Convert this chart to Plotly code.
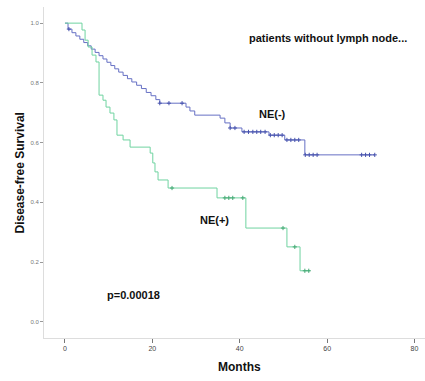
import numpy as np
import plotly.graph_objects as go

# NE(-) group: event times (months) and survival after each step
neg_time = [0, 0.7, 1.6, 2.5, 3.4, 4.3, 5.2, 6.0, 6.9, 7.8, 8.7, 9.6, 10.5, 11.4, 12.3,
            13.3, 14.3, 15.3, 16.4, 17.5, 18.6, 19.7, 20.8, 21.7,
            27.7, 28.6, 29.7, 35.5, 36.6, 37.8, 40.5, 46.7, 50.3, 54.9, 70.9]
neg_surv = [1.0, 0.980, 0.968, 0.957, 0.946, 0.935, 0.924, 0.913, 0.902, 0.891, 0.880,
            0.869, 0.858, 0.847, 0.836, 0.825, 0.814, 0.803, 0.792, 0.781, 0.768, 0.757,
            0.744, 0.732, 0.719, 0.706, 0.692, 0.682, 0.666, 0.649, 0.636, 0.625, 0.609,
            0.559, 0.559]
neg_censor = [0.9, 21.7, 23.8, 26.8, 37.8, 38.9, 41.0, 42.0, 43.0, 43.9, 44.8, 45.8,
              47.0, 47.9, 48.8, 49.7, 50.8, 51.7, 52.6, 53.5, 55.0, 55.9, 56.8, 57.7,
              67.9, 68.8, 69.7, 70.9]

# NE(+) group
pos_time = [0, 3.9, 4.6, 5.3, 6.2, 7.1, 7.8, 8.7, 9.4, 10.3, 11.2, 11.9, 13.3, 14.9,
            19.5, 20.1, 20.6, 21.3, 23.6, 34.8, 41.4, 50.8, 53.8, 56.1]
pos_surv = [1.0, 0.977, 0.943, 0.920, 0.893, 0.870, 0.759, 0.742, 0.719, 0.699, 0.676,
            0.625, 0.609, 0.585, 0.565, 0.532, 0.502, 0.475, 0.448, 0.415, 0.314, 0.251,
            0.171, 0.171]
pos_censor = [24.5, 36.6, 37.5, 38.4, 40.7, 49.9, 52.6, 54.9, 55.8]

x_ticks = [0, 20, 40, 60, 80]
y_ticks = [0.0, 0.2, 0.4, 0.6, 0.8, 1.0]

BLUE = "#6670c4"
BLUE_M = "#4652ad"
GREEN = "#6fd3a0"
GREEN_M = "#45a874"


def step_at(times, survs, t):
    idx = np.searchsorted(np.array(times), np.array(t), side="right") - 1
    return [survs[i] for i in idx]


fig = go.Figure()
fig.add_trace(go.Scatter(x=neg_time, y=neg_surv, mode="lines", line_shape="hv",
                         line=dict(color=BLUE, width=1), showlegend=False))
fig.add_trace(go.Scatter(x=pos_time, y=pos_surv, mode="lines", line_shape="hv",
                         line=dict(color=GREEN, width=1), showlegend=False))
fig.add_trace(go.Scatter(x=neg_censor, y=step_at(neg_time, neg_surv, neg_censor),
                         mode="markers",
                         marker=dict(symbol="cross-thin", size=3,
                                     line=dict(color=BLUE_M, width=1)),
                         showlegend=False))
fig.add_trace(go.Scatter(x=pos_censor, y=step_at(pos_time, pos_surv, pos_censor),
                         mode="markers",
                         marker=dict(symbol="cross-thin", size=3,
                                     line=dict(color=GREEN_M, width=1)),
                         showlegend=False))

txt = dict(family="Liberation Sans, Arial, sans-serif", size=11, color="#111111")
anns = [
    dict(x=60.2, y=0.95, text="<b>patients without lymph node...</b>"),
    dict(x=47.4, y=0.696, text="<b>NE(-)</b>"),
    dict(x=34.3, y=0.341, text="<b>NE(+)</b>"),
    dict(x=15.6, y=0.09, text="<b>p=0.00018</b>"),
]
for a in anns:
    fig.add_annotation(xref="x", yref="y", showarrow=False, font=txt,
                       xanchor="center", yanchor="middle", **a)
fig.add_annotation(xref="paper", yref="paper", x=0.514, y=-0.088, text="<b>Months</b>",
                   showarrow=False, font=dict(txt, size=12), xanchor="center",
                   yanchor="middle")
fig.add_annotation(xref="paper", yref="paper", x=-0.063, y=0.50,
                   text="<b>Disease-free Survival</b>", textangle=-90,
                   showarrow=False, font=dict(txt, size=12), xanchor="center",
                   yanchor="middle")

fig.update_xaxes(range=[-4.8, 82.4], tickvals=x_ticks, ticktext=[str(v) for v in x_ticks],
                 showgrid=False, zeroline=False, showline=True, linecolor="#dddddd",
                 linewidth=1, ticks="outside", ticklen=4, tickcolor="#777777",
                 tickfont=dict(family="Liberation Sans, Arial", size=7, color="#444444"))
fig.update_yaxes(range=[-0.054, 1.054], tickvals=y_ticks,
                 ticktext=[f"{v:.1f}" for v in y_ticks],
                 showgrid=False, zeroline=False, showline=True, linecolor="#dddddd",
                 linewidth=1, ticks="outside", ticklen=3, tickcolor="#999999",
                 tickfont=dict(family="Liberation Sans, Arial", size=6, color="#777777"))
fig.update_layout(width=425, height=381, margin=dict(l=44, r=0, t=7, b=43),
                  paper_bgcolor="white", plot_bgcolor="white")

fig.write_html("out.html")
